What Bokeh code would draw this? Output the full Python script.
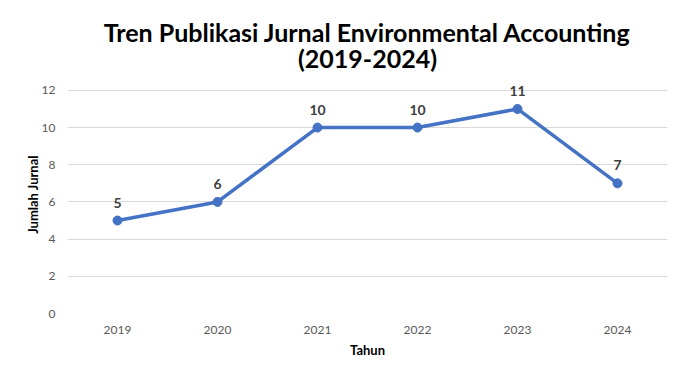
from bokeh.plotting import figure
from bokeh.models import ColumnDataSource, Title, LabelSet
from bokeh.core.properties import value
from bokeh.embed import file_html
from bokeh.resources import INLINE

# Publication counts per year
tahun = ["2019", "2020", "2021", "2022", "2023", "2024"]
jumlah = [5, 6, 10, 10, 11, 7]
y_ticks = [0, 2, 4, 6, 8, 10, 12]

FONT = "Lato"
LINE_COLOR = "#4472C4"

src = ColumnDataSource(data=dict(
    tahun=tahun,
    jumlah=jumlah,
    label=[str(v) for v in jumlah],
))

# Range runs a little past the last tick so value labels near the top fit
p = figure(
    x_range=tahun,
    y_range=(0, 12.8),
    width=673,
    height=371,
    output_backend="svg",
    toolbar_location=None,
    min_border_left=67,
    min_border_right=6,
    min_border_top=75,
    min_border_bottom=58,
)

# Two-line title, subtitle added first so it sits next to the frame
p.title.text = ""
p.add_layout(Title(text="(2019-2024)", align="center", text_font=FONT,
                   text_font_size="25px", text_font_style="bold",
                   text_color="#000000", standoff=5), "above")
p.add_layout(Title(text="Tren Publikasi Jurnal Environmental Accounting",
                   align="center", text_font=FONT, text_font_size="25px",
                   text_font_style="bold", text_color="#000000",
                   standoff=-17), "above")

p.line("tahun", "jumlah", source=src, line_color=LINE_COLOR, line_width=3.5)
p.scatter("tahun", "jumlah", source=src, size=9, fill_color=LINE_COLOR,
          line_color=LINE_COLOR)

labels = LabelSet(x="tahun", y="jumlah", text="label", source=src,
                  text_align="center", text_baseline="bottom", y_offset=13,
                  text_font=value(FONT), text_font_size="14px",
                  text_font_style="bold", text_color="#404040")
p.add_layout(labels)

# Axes
p.yaxis.ticker = y_ticks
p.yaxis.axis_line_color = None
p.yaxis.major_tick_line_color = None
p.yaxis.minor_tick_line_color = None
p.yaxis.major_label_standoff = 6
p.yaxis.major_label_text_font = FONT
p.yaxis.major_label_text_font_size = "12px"
p.yaxis.major_label_text_color = "#595959"
p.yaxis.axis_label = "Jumlah Jurnal"
p.yaxis.axis_label_text_font = FONT
p.yaxis.axis_label_text_font_size = "13px"
p.yaxis.axis_label_text_font_style = "bold"
p.yaxis.axis_label_text_color = "#000000"
p.yaxis.axis_label_standoff = -2

p.xaxis.axis_line_color = None
p.xaxis.major_tick_line_color = None
p.xaxis.minor_tick_line_color = None
p.xaxis.major_label_standoff = 6
p.xaxis.major_label_text_font = FONT
p.xaxis.major_label_text_font_size = "12px"
p.xaxis.major_label_text_color = "#595959"
p.xaxis.axis_label = "Tahun"
p.xaxis.axis_label_text_font = FONT
p.xaxis.axis_label_text_font_size = "13px"
p.xaxis.axis_label_text_font_style = "bold"
p.xaxis.axis_label_text_color = "#000000"
p.xaxis.axis_label_standoff = 5

p.xgrid.grid_line_color = None
p.ygrid.grid_line_color = "#d9d9d9"
p.ygrid.grid_line_width = 1
p.outline_line_color = None
p.background_fill_color = "#ffffff"
p.border_fill_color = "#ffffff"

open("out.html", "w").write(file_html(p, INLINE))
